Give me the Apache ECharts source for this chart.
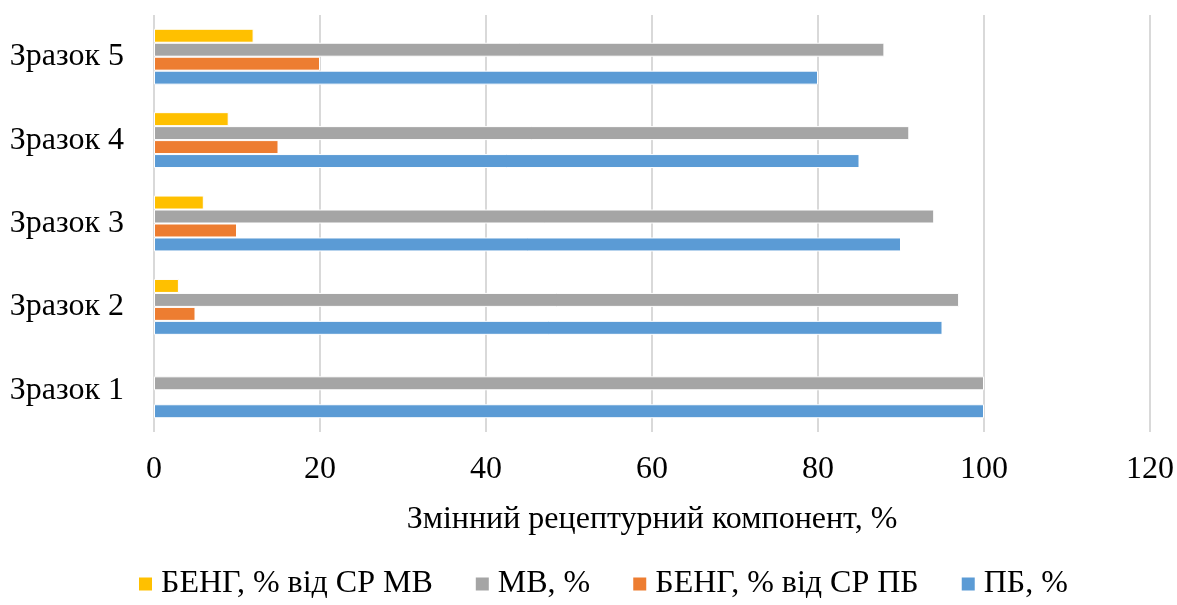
<!DOCTYPE html>
<html><head><meta charset="utf-8">
<script src="https://cdn.jsdelivr.net/npm/echarts@6/dist/echarts.min.js"></script>
<style>html,body{margin:0;padding:0;background:#fff}#c{width:1177px;height:605px}</style>
</head><body><div id="c"></div>
<script>
const categories = ['Зразок 1','Зразок 2','Зразок 3','Зразок 4','Зразок 5'];
const seriesNames = ['БЕНГ, % від СР МВ','МВ, %','БЕНГ, % від СР ПБ','ПБ, %'];
const bengMv = [0, 3, 6, 9, 12];
const mv = [100, 97, 94, 91, 88];
const bengPb = [0, 5, 10, 15, 20];
const pb = [100, 95, 90, 85, 80];
const colors = ['#ffc000','#a5a5a5','#ed7d31','#5b9bd5'];
const xName = 'Змінний рецептурний компонент, %';

const font = 'Liberation Serif, Times New Roman, serif';
const values = [bengMv, mv, bengPb, pb];
const chart = echarts.init(document.getElementById('c'), null, {renderer:'canvas'});
chart.setOption({
  animation:false,
  textStyle:{fontFamily:font},
  grid:{left:154, right:27, top:15, bottom:173, containLabel:false},
  legend:{
    data:seriesNames, bottom:0, left:132, icon:'rect', itemWidth:15, itemHeight:15, itemGap:41,
    textStyle:{fontFamily:font, fontSize:32, color:'#000', padding:[0,0,0,3]}
  },
  xAxis:{
    type:'value', min:0, max:120, interval:20,
    name:xName, nameLocation:'middle', nameGap:72,
    nameTextStyle:{fontFamily:font, fontSize:32, color:'#000'},
    axisLine:{show:false}, axisTick:{show:false},
    axisLabel:{fontFamily:font, fontSize:32, color:'#000', margin:22},
    splitLine:{lineStyle:{color:'#d9d9d9', width:2}}
  },
  yAxis:{
    type:'category', data:categories,
    axisLine:{show:false}, axisTick:{show:false},
    axisLabel:{fontFamily:font, fontSize:32, color:'#000', margin:30}
  },
  series: seriesNames.map((n,i)=>({
    name:n, type:'bar',
    data:values[i].map(v => v === 0 ? {value:v, itemStyle:{borderWidth:0}} : v),
    barGap:'0%', barCategoryGap:'33%',
    itemStyle:{color:colors[i], borderColor:'#fff', borderWidth:1}
  }))
});
</script></body></html>
